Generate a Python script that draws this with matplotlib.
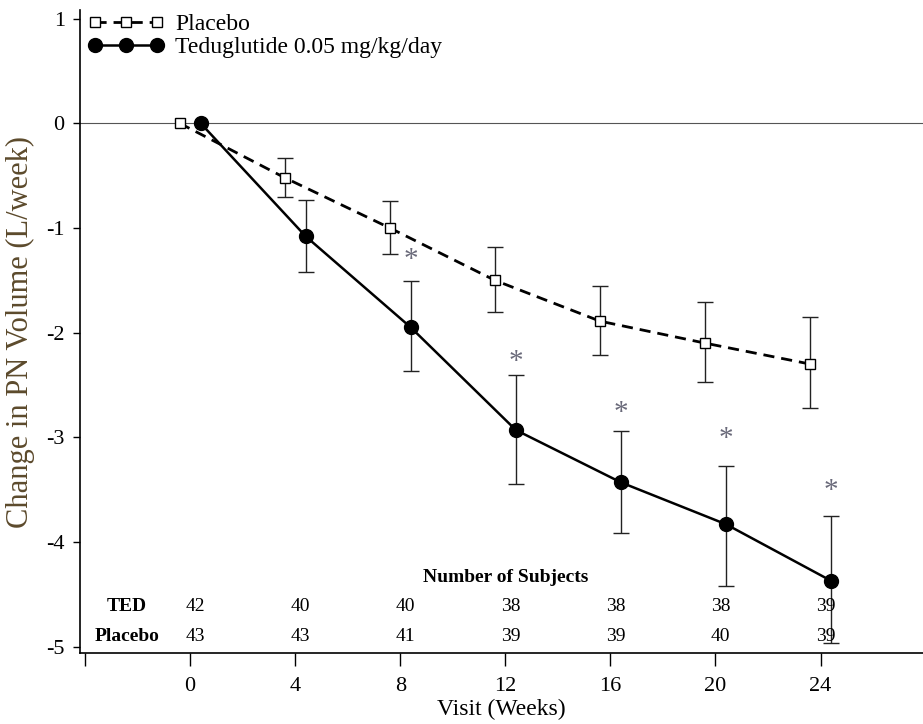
import matplotlib.pyplot as plt

plt.rcParams['font.family'] = ['Liberation Serif', 'DejaVu Serif']
plt.rcParams['axes.unicode_minus'] = False

weeks = [0, 4, 8, 12, 16, 20, 24]

placebo_mean = [0, -0.52, -1.00, -1.50, -1.89, -2.10, -2.30]
placebo_hi = [0, -0.33, -0.74, -1.18, -1.55, -1.71, -1.85]
placebo_lo = [0, -0.70, -1.25, -1.80, -2.21, -2.47, -2.72]

ted_mean = [0, -1.08, -1.95, -2.93, -3.43, -3.83, -4.37]
ted_hi = [0, -0.73, -1.51, -2.40, -2.94, -3.27, -3.75]
ted_lo = [0, -1.42, -2.37, -3.45, -3.91, -4.42, -4.96]

star_weeks = [8, 12, 16, 20, 24]
star_y = [-1.31, -2.28, -2.77, -3.02, -3.51]

n_ted = [42, 40, 40, 38, 38, 38, 39]
n_placebo = [43, 43, 41, 39, 39, 40, 39]

off = 0.4
xp = [w - off for w in weeks]
xt = [w + off for w in weeks]

fig = plt.figure(figsize=(9.23, 7.24), dpi=100)
ax = fig.add_axes([0.0867, 0.098, 0.9133, 0.888])

ax.axhline(0, color='#555555', lw=0.8, zorder=1)

err_p = [[m - l for m, l in zip(placebo_mean, placebo_lo)],
         [h - m for m, h in zip(placebo_mean, placebo_hi)]]
err_t = [[m - l for m, l in zip(ted_mean, ted_lo)],
         [h - m for m, h in zip(ted_mean, ted_hi)]]

ax.errorbar(xp[1:], placebo_mean[1:], yerr=[e[1:] for e in err_p], fmt='none',
            ecolor='#222222', elinewidth=1.0, capsize=6, capthick=1.0, zorder=2)
ax.errorbar(xt[1:], ted_mean[1:], yerr=[e[1:] for e in err_t], fmt='none',
            ecolor='#222222', elinewidth=1.0, capsize=6, capthick=1.0, zorder=2)

ax.plot(xp, placebo_mean, ls=(0, (4, 2.5)), color='black', lw=2,
        marker='s', ms=7, mfc='white', mec='black', mew=1.0,
        label='Placebo', zorder=4)
ax.plot(xt, ted_mean, ls='-', color='black', lw=1.8,
        marker='o', ms=10, mfc='black', mec='black',
        label='Teduglutide 0.05 mg/kg/day', zorder=4)

for w, y in zip(star_weeks, star_y):
    ax.text(w + off, y, '*', color='#6a6a7a', fontsize=21,
            ha='center', va='center')

ax.text(12, -4.34, 'Number of Subjects', fontsize=14, fontweight='bold',
        ha='center', va='center')
ax.text(-2.4, -4.62, 'TED', fontsize=14, fontweight='bold', ha='center', va='center')
ax.text(-2.4, -4.90, 'Placebo', fontsize=14, fontweight='bold', ha='center', va='center')
for w, a, b in zip(weeks, n_ted, n_placebo):
    ax.text(w + 0.2, -4.62, str(a), fontsize=14, ha='center', va='center')
    ax.text(w + 0.2, -4.90, str(b), fontsize=14, ha='center', va='center')

ax.set_xlim(-4.19, 27.9)
ax.set_ylim(-5.06, 1.08)
ax.set_xticks([-4, 0, 4, 8, 12, 16, 20, 24])
ax.set_xticklabels([''] + [str(w) for w in weeks])
ax.set_yticks([1, 0, -1, -2, -3, -4, -5])
ax.tick_params(axis='x', direction='out', length=9, width=1, labelsize=16, pad=8)
ax.tick_params(axis='y', direction='out', length=5, width=1, labelsize=16, pad=6)
ax.spines['top'].set_visible(False)
ax.spines['right'].set_visible(False)
ax.spines['left'].set_linewidth(1.2)
ax.spines['bottom'].set_linewidth(1.2)

ax.set_xlabel('Visit (Weeks)', fontsize=17, labelpad=2)
ax.set_ylabel('Change in PN Volume (L/week)', fontsize=22, color='#5c4a2c',
              labelpad=8)

ax.legend(loc='upper left', bbox_to_anchor=(-0.01, 1.02), frameon=False,
          fontsize=17, numpoints=3, handlelength=3.2, handletextpad=0.5,
          labelspacing=0.05, borderaxespad=0.3)

fig.savefig('out.png', dpi=100)
